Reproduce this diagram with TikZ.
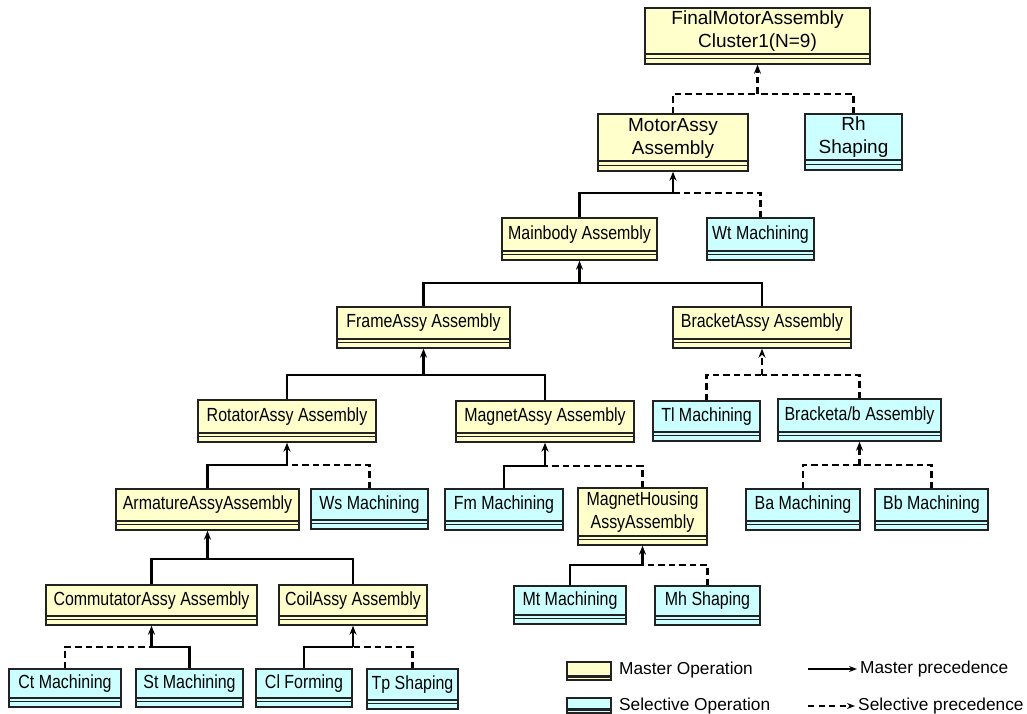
\documentclass[tikz,border=0pt]{standalone}
\usepackage{fontspec}
\setmainfont{Liberation Sans}
\newfontfamily\narrowfont[FakeStretch=0.84]{Liberation Sans}
\usetikzlibrary{fit,arrows.meta}

\definecolor{masterfill}{HTML}{FFFFCC}
\definecolor{selfill}{HTML}{CCFFFF}
\definecolor{edgecol}{HTML}{222222}

\tikzset{
  x=1pt, y=-1pt,
  % operation box with the double rule near its bottom edge
  opbase/.style={rectangle, draw=edgecol, line width=1.4pt, inner sep=0pt},
  strip/.style 2 args={path picture={
      \draw[edgecol, line width=2pt]
        ([yshift=#1]path picture bounding box.south west) --
        ([yshift=#1]path picture bounding box.south east);
      \draw[edgecol, line width=1.2pt]
        ([yshift=#2]path picture bounding box.south west) --
        ([yshift=#2]path picture bounding box.south east);}},
  master/.style={opbase, fill=masterfill, strip={9.5pt}{5.5pt}},
  selective/.style={opbase, fill=selfill, strip={9.5pt}{5.5pt}},
  keymaster/.style={opbase, line width=1.2pt, fill=masterfill, strip={4.5pt}{2.2pt}},
  keyselective/.style={opbase, line width=1.2pt, fill=selfill, strip={4.5pt}{2.2pt}},
  lbl/.style={inner sep=0pt, align=center, text=black, font=\fontsize{19}{23}\selectfont},
  nlbl/.style={lbl, font=\narrowfont\fontsize{19}{23}\selectfont},
  keylbl/.style={inner sep=0pt, anchor=west, text=black, font=\fontsize{17.3}{20}\selectfont},
  % precedence connectors
  prec/.style={draw=black, line width=2.2pt},
  sel/.style={prec, dash pattern=on 6.5pt off 4pt},
  tip/.style={-{Stealth[length=9pt,width=7pt]}},
}

% \opnode[text style]{name}{box style}{left}{top}{right}{bottom}{text}
\newcommand\opnode[8][nlbl]{%
  \node[#3, fit={(#4,#5) (#6,#7)}] (#2) {};
  \node[#1] (#2-t) at ([yshift=4.5pt]#2.center) {#8};}

\begin{document}
\begin{tikzpicture}
\useasboundingbox (0,0) rectangle (1027,714);

% operations
\opnode[lbl]{final}{master}{645}{8}{870}{64}{FinalMotorAssembly\\Cluster1(N=9)}
\opnode[lbl]{motor}{master}{598}{114}{748}{171}{MotorAssy\\Assembly}
\opnode[lbl]{rh}{selective}{805}{114}{902}{170}{Rh\\Shaping}
\opnode{mainbody}{master}{502}{218}{657}{260}{Mainbody Assembly}
\opnode{wt}{selective}{707}{218}{814}{260}{Wt Machining}
\opnode{frame}{master}{337}{307}{510}{348}{FrameAssy Assembly}
\opnode{bracket}{master}{673}{307}{851}{348}{BracketAssy Assembly}
\opnode{rotator}{master}{198}{400}{376}{442}{RotatorAssy Assembly}
\opnode{magnet}{master}{456}{401}{634}{442}{MagnetAssy Assembly}
\opnode{tl}{selective}{653}{401}{760}{441}{Tl Machining}
\opnode{bab}{selective}{778}{399}{941}{441}{Bracketa/b Assembly}
\opnode{armature}{master}{116}{489}{299}{530}{ArmatureAssyAssembly}
\opnode{ws}{selective}{311}{489}{428}{529}{Ws Machining}
\opnode{fm}{selective}{445}{489}{563}{530}{Fm Machining}
\opnode{mhousing}{master}{578}{488}{707}{545}{MagnetHousing\\AssyAssembly}
\opnode{ba}{selective}{746}{489}{860}{530}{Ba Machining}
\opnode{bb}{selective}{875}{489}{988}{530}{Bb Machining}
\opnode{commutator}{master}{46}{585}{257}{625}{CommutatorAssy Assembly}
\opnode{coil}{master}{279}{585}{427}{625}{CoilAssy Assembly}
\opnode{mt}{selective}{514}{586}{626}{624}{Mt Machining}
\opnode{mh}{selective}{655}{586}{760}{625}{Mh Shaping}
\opnode{ct}{selective}{9}{669}{121}{707}{Ct Machining}
\opnode{st}{selective}{136}{669}{243}{707}{St Machining}
\opnode{cl}{selective}{256}{669}{352}{707}{Cl Forming}
\opnode{tp}{selective}{367}{669}{458}{709}{Tp Shaping}

% junction points of the precedence buses
\coordinate (bFinal) at (757.5,94);
\coordinate (bMotor) at (673,193);
\coordinate (bMain) at (579.5,283);
\coordinate (bFrame) at (423.5,375);
\coordinate (bBracket) at (762,375);
\coordinate (bRot) at (287,465);
\coordinate (bMag) at (545,466);
\coordinate (bBab) at (859.5,465);
\coordinate (bArm) at (207.5,559);
\coordinate (bMH) at (642.5,565);
\coordinate (bCom) at (151.5,647);
\coordinate (bCoil) at (353,647);

% FinalMotorAssembly
\draw[sel] (motor.north) |- (bFinal);
\draw[sel] (rh.north) |- (bFinal);
\draw[sel,tip] (bFinal) -- (final.south);
% MotorAssy
\draw[prec] (mainbody.north) |- (bMotor);
\draw[sel] (wt.north) |- (bMotor);
\draw[prec,tip] (bMotor) -- (motor.south);
% Mainbody
\draw[prec] (frame.north) |- (bMain);
\draw[prec] (bracket.north) |- (bMain);
\draw[prec,tip] (bMain) -- (mainbody.south);
% FrameAssy
\draw[prec] (rotator.north) |- (bFrame);
\draw[prec] (magnet.north) |- (bFrame);
\draw[prec,tip] (bFrame) -- (frame.south);
% BracketAssy
\draw[sel] (tl.north) |- (bBracket);
\draw[sel] (bab.north) |- (bBracket);
\draw[sel,tip] (bBracket) -- (bracket.south);
% RotatorAssy
\draw[prec] (armature.north) |- (bRot);
\draw[sel] (ws.north) |- (bRot);
\draw[prec,tip] (bRot) -- (rotator.south);
% MagnetAssy
\draw[prec] (fm.north) |- (bMag);
\draw[sel] (mhousing.north) |- (bMag);
\draw[prec,tip] (bMag) -- (magnet.south);
% Bracketa/b
\draw[sel] (ba.north) |- (bBab);
\draw[sel] (bb.north) |- (bBab);
\draw[sel,tip] (bBab) -- (bab.south);
% ArmatureAssy
\draw[prec] (commutator.north) |- (bArm);
\draw[prec] (coil.north) |- (bArm);
\draw[prec,tip] (bArm) -- (armature.south);
% MagnetHousing
\draw[prec] (mt.north) |- (bMH);
\draw[sel] (mh.north) |- (bMH);
\draw[prec,tip] (bMH) -- (mhousing.south);
% CommutatorAssy
\draw[sel] (ct.north) |- (bCom);
\draw[prec] (st.north) |- (bCom);
\draw[prec,tip] (bCom) -- (commutator.south);
% CoilAssy
\draw[prec] (cl.north) |- (bCoil);
\draw[sel] (tp.north) |- (bCoil);
\draw[prec,tip] (bCoil) -- (coil.south);

% legend
\node[keymaster, fit={(567,662) (611,680)}] (kMaster) {};
\node[keyselective, fit={(567,698) (611,713)}] (kSel) {};
\node[keylbl] (kMasterT) at (619,670) {Master Operation};
\node[keylbl] (kSelT) at (619,706) {Selective Operation};
\coordinate (kPrecA) at (808,669);
\coordinate (kSelA) at (808,706);
\node[keylbl] (kPrecT) at (860,669) {Master precedence};
\node[keylbl] (kSelPT) at (858,706) {Selective precedence};
\draw[prec, line width=1.5pt, -{Stealth[length=8pt,width=6pt]}, shorten >=3pt] (kPrecA) -- (kPrecT.west);
\draw[prec, line width=1.5pt, dash pattern=on 6pt off 4.5pt, -{Stealth[length=8pt,width=6pt]}, shorten >=3pt] (kSelA) -- (kSelPT.west);
\end{tikzpicture}
\end{document}
